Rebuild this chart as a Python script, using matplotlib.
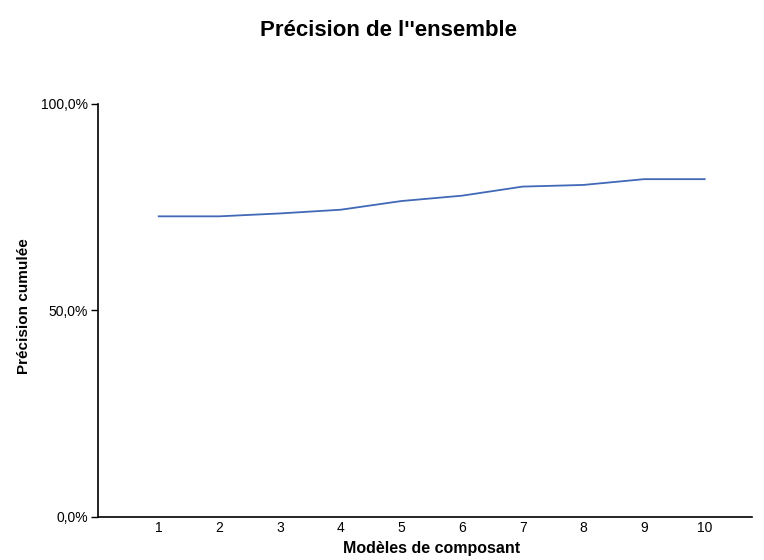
import matplotlib
matplotlib.use('Agg')
import matplotlib.pyplot as plt
from matplotlib.ticker import FuncFormatter

# Données
modeles = [1, 2, 3, 4, 5, 6, 7, 8, 9, 10]
precision = [72.8, 72.8, 73.5, 74.4, 76.5, 77.8, 80.0, 80.4, 81.8, 81.8]
yticks = [0, 50, 100]

plt.rcParams['font.family'] = ['Liberation Sans', 'DejaVu Sans']

fig = plt.figure(figsize=(7.64, 5.60), dpi=100)
ax = fig.add_axes([0.1283, 0.0768, 0.856, 0.7375])

ax.plot(modeles, precision, color='#4169b8', linewidth=1.3)

ax.set_xlim(0, 10.78)
ax.set_ylim(0, 100)
ax.set_xticks(modeles)
ax.set_yticks(yticks)
ax.yaxis.set_major_formatter(FuncFormatter(lambda v, p: f"{v:.1f}%".replace('.', ',')))
ax.tick_params(axis='x', length=0, pad=3, labelsize=10)
ax.tick_params(axis='y', length=5, width=1, labelsize=10, pad=2)

for s in ['top', 'right']:
    ax.spines[s].set_visible(False)
for s in ['left', 'bottom']:
    ax.spines[s].set_linewidth(1.2)

# étiquettes des axes placées à la main
fig.text(432 / 764, 1 - 549 / 560, 'Modèles de composant', ha='center', va='center',
         fontweight='bold', fontsize=11.5)
fig.text(24 / 764, 1 - 306 / 560, 'Précision cumulée', ha='center', va='center',
         rotation=90, fontweight='bold', fontsize=11)
fig.text(389 / 764, 1 - 30 / 560, "Précision de l''ensemble", ha='center', va='center',
         fontweight='bold', fontsize=16)

fig.savefig('out.png', dpi=100)
plt.close(fig)
